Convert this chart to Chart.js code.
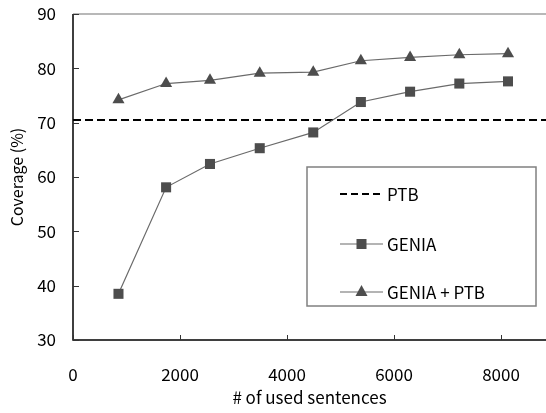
<!DOCTYPE html>
<html>
<head>
<meta charset="utf-8">
<script src="https://cdn.jsdelivr.net/npm/chart.js@4"></script>
<style>
html,body{margin:0;padding:0;background:#fff;}
canvas{display:block;}
</style>
</head>
<body>
<canvas id="c" width="546" height="413"></canvas>
<script>
// ---- data ----
const usedSentences = [850, 1740, 2560, 3490, 4490, 5380, 6300, 7220, 8130];
const geniaCoverage = [38.5, 58.1, 62.4, 65.3, 68.2, 73.8, 75.7, 77.2, 77.6];
const geniaPtbCoverage = [74.2, 77.2, 77.8, 79.1, 79.3, 81.4, 82.0, 82.5, 82.7];
const ptbCoverage = 70.5;
const xTicks = [0, 2000, 4000, 6000, 8000];
const yTicks = [30, 40, 50, 60, 70, 80, 90];
const xRange = [0, 8840];
const seriesLabels = ['PTB', 'GENIA', 'GENIA + PTB'];
const xTitle = '# of used sentences';
const yTitle = 'Coverage (%)';

const FONT = "'Noto Sans CJK JP', 'Liberation Sans', sans-serif";
const markerColor = '#4d4d4d';
const lineColor = '#6a6a6a';

const toPts = (xs, ys) => xs.map((x, i) => ({x: x, y: ys[i]}));

const frame = {
  id: 'frame',
  afterDraw(chart) {
    const ctx = chart.ctx, a = chart.chartArea;
    const xs = chart.scales.x, ys = chart.scales.y;
    ctx.save();
    ctx.strokeStyle = '#a0a0a0';
    ctx.lineWidth = 1.5;
    ctx.beginPath(); ctx.moveTo(a.left, a.top); ctx.lineTo(a.right, a.top); ctx.stroke();
    ctx.strokeStyle = '#000';
    ctx.lineWidth = 1.5;
    ctx.beginPath();
    ctx.moveTo(a.left, a.top); ctx.lineTo(a.left, a.bottom); ctx.lineTo(a.right, a.bottom);
    ctx.stroke();
    ctx.lineWidth = 1;
    ctx.strokeStyle = '#333';
    ys.ticks.forEach(t => {
      const y = Math.round(ys.getPixelForValue(t.value)) + 0.5;
      ctx.beginPath(); ctx.moveTo(a.left, y); ctx.lineTo(a.left + 6, y); ctx.stroke();
    });
    xs.ticks.forEach(t => {
      const x = Math.round(xs.getPixelForValue(t.value)) + 0.5;
      ctx.beginPath(); ctx.moveTo(x, a.bottom); ctx.lineTo(x, a.bottom - 5); ctx.stroke();
    });
    const L = 307, T = 167, R = 536, B = 306;
    ctx.fillStyle = '#fff';
    ctx.fillRect(L, T, R - L, B - T);
    ctx.strokeStyle = '#808080';
    ctx.lineWidth = 1.5;
    ctx.strokeRect(L, T, R - L, B - T);
    const rows = [194, 244, 292];
    const sx0 = 340, sx1 = 383, tx = 387;
    ctx.font = '17px ' + FONT;
    ctx.textBaseline = 'middle';
    ctx.textAlign = 'left';
    chart.data.datasets.forEach((ds, i) => {
      const y = rows[i];
      ctx.strokeStyle = i === 0 ? '#000' : lineColor;
      ctx.lineWidth = i === 0 ? 2 : 1.2;
      ctx.setLineDash(i === 0 ? [7, 4] : []);
      ctx.beginPath(); ctx.moveTo(sx0, y); ctx.lineTo(sx1, y); ctx.stroke();
      ctx.setLineDash([]);
      const cx = (sx0 + sx1) / 2;
      ctx.fillStyle = markerColor;
      if (i === 1) {
        ctx.fillRect(cx - 5, y - 5, 10, 10);
      } else if (i === 2) {
        ctx.beginPath();
        ctx.moveTo(cx, y - 7); ctx.lineTo(cx + 6, y + 4); ctx.lineTo(cx - 6, y + 4);
        ctx.closePath(); ctx.fill();
      }
      ctx.fillStyle = '#000';
      ctx.fillText(ds.label, tx, y + 1);
    });
    ctx.restore();
  }
};

new Chart(document.getElementById('c'), {
  type: 'scatter',
  data: {
    datasets: [
      {
        label: seriesLabels[0],
        data: [{x: xRange[0], y: ptbCoverage}, {x: xRange[1], y: ptbCoverage}],
        showLine: true,
        borderColor: '#000',
        borderWidth: 2,
        borderDash: [8, 4],
        pointRadius: 0,
        order: 3
      },
      {
        label: seriesLabels[1],
        data: toPts(usedSentences, geniaCoverage),
        showLine: true,
        borderColor: lineColor,
        borderWidth: 1.2,
        pointStyle: 'rect',
        pointRadius: 7.1,
        pointBackgroundColor: markerColor,
        pointBorderColor: markerColor,
        pointBorderWidth: 0,
        order: 2
      },
      {
        label: seriesLabels[2],
        data: toPts(usedSentences, geniaPtbCoverage),
        showLine: true,
        borderColor: lineColor,
        borderWidth: 1.2,
        pointStyle: 'triangle',
        pointRadius: 7,
        pointBackgroundColor: markerColor,
        pointBorderColor: markerColor,
        pointBorderWidth: 0,
        order: 1
      }
    ]
  },
  options: {
    responsive: false,
    animation: false,
    layout: {autoPadding: false, padding: {top: 14, right: 0, left: 0, bottom: 0}},
    plugins: {legend: {display: false}, tooltip: {enabled: false}},
    scales: {
      x: {
        type: 'linear',
        min: xRange[0], max: xRange[1],
        border: {display: false},
        grid: {display: false, drawTicks: false},
        afterBuildTicks: s => { s.ticks = xTicks.map(v => ({value: v})); },
        ticks: {color: '#000', font: {family: FONT, size: 17}, padding: 24, maxRotation: 0, autoSkip: false,
                callback: v => String(v)},
        title: {display: true, text: xTitle, color: '#000', font: {family: FONT, size: 17}, padding: {top: 0, bottom: 5}},
        afterFit: s => { s.height = 73; s.paddingLeft = 0; s.paddingRight = 0; }
      },
      y: {
        min: yTicks[0], max: yTicks[yTicks.length - 1],
        border: {display: false},
        grid: {display: false, drawTicks: false},
        afterBuildTicks: s => { s.ticks = yTicks.map(v => ({value: v})); },
        ticks: {color: '#000', font: {family: FONT, size: 17}, padding: 17, callback: v => String(v)},
        title: {display: true, text: yTitle, color: '#000', font: {family: FONT, size: 16}, padding: {top: 7, bottom: 0}},
        afterFit: s => { s.width = 73; s.paddingTop = 0; s.paddingBottom = 0; }
      }
    }
  },
  plugins: [frame]
});
</script>
</body>
</html>
